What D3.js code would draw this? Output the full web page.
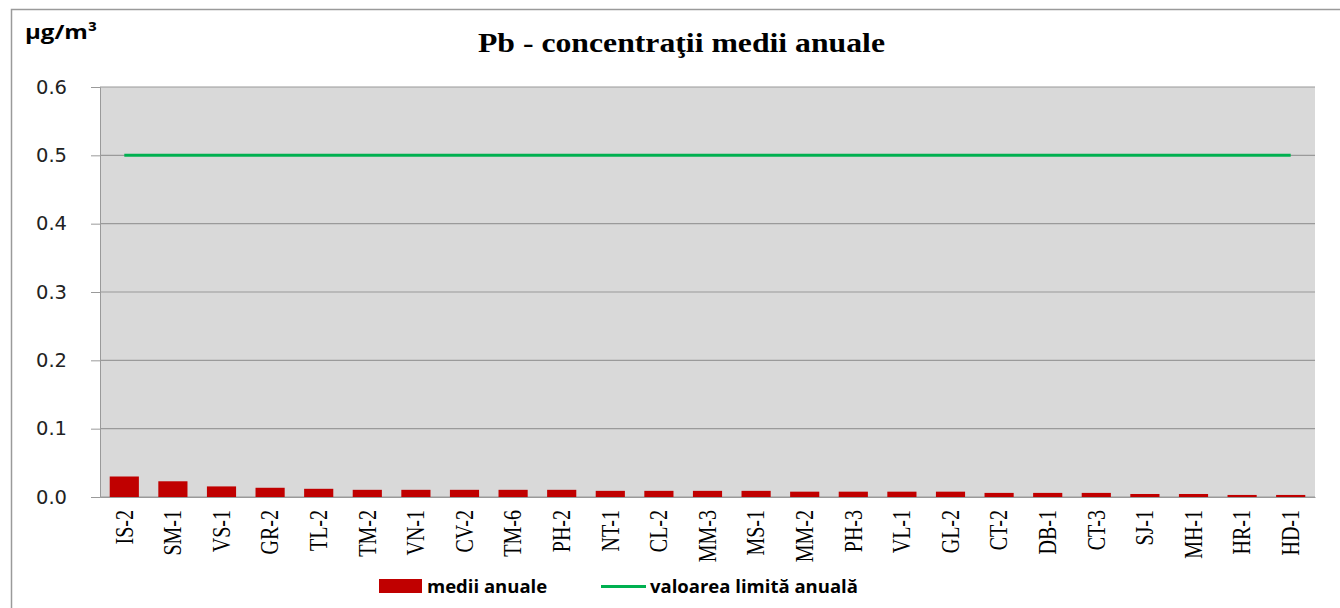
<!DOCTYPE html>
<html>
<head>
<meta charset="utf-8">
<script src="https://cdn.jsdelivr.net/npm/d3@7"></script>
<style>
  body { margin: 0; background: #fff; overflow: hidden; }
</style>
</head>
<body>
<div id="chart"></div>
<script>
// stations, ordered as in the picture
const stations = ["IS-2", "SM-1", "VS-1", "GR-2", "TL-2", "TM-2", "VN-1", "CV-2", "TM-6", "PH-2",
                  "NT-1", "CL-2", "MM-3", "MS-1", "MM-2", "PH-3", "VL-1", "GL-2", "CT-2", "DB-1",
                  "CT-3", "SJ-1", "MH-1", "HR-1", "HD-1"];
// medii anuale (µg/m3)
const annualMeans = [0.030, 0.023, 0.0155, 0.0135, 0.012, 0.0105, 0.0105, 0.0105, 0.0105, 0.0105,
                     0.009, 0.009, 0.009, 0.009, 0.0078, 0.0078, 0.0078, 0.0078, 0.006, 0.006,
                     0.006, 0.0044, 0.0044, 0.003, 0.003];
const limitValue = 0.5; // valoarea limita anuala
const yTicks = [0, 0.1, 0.2, 0.3, 0.4, 0.5, 0.6];

const data = stations.map((s, i) => ({ station: s, value: annualMeans[i] }));

const width = 1340,
      height = 608,
      margin = ({ top: 87, right: 25, bottom: 111, left: 100 });

let svg = d3.select("#chart")
    .append("svg")
    .attr("width", width)
    .attr("height", height)
    .style("display", "block");

// outer chart frame (only top and left edges are in view)
svg.append("path")
    .attr("d", `M11.5,${height} V9.5 H${width}`)
    .attr("fill", "none")
    .attr("stroke", "#9a9a9a")
    .attr("stroke-width", 1.5);

let x = d3.scaleBand()
    .domain(stations)
    .range([margin.left, width - margin.right])
    .paddingInner(0.4)
    .paddingOuter(0.2);

let y = d3.scaleLinear()
    .domain([0, 0.6])
    .range([height - margin.bottom, margin.top]);

// plot area background
svg.append("rect")
    .attr("x", margin.left)
    .attr("y", margin.top)
    .attr("width", width - margin.right - margin.left)
    .attr("height", y(0) - margin.top)
    .attr("fill", "#d9d9d9");

// y axis with gridlines
let yAxis = svg.append("g")
    .attr("transform", `translate(${margin.left},0)`)
    .call(d3.axisLeft(y)
        .tickValues(yTicks)
        .tickFormat(d3.format(".1f"))
        .tickSize(9)
        .tickPadding(24));
yAxis.select(".domain").attr("stroke", "#9a9a9a");
yAxis.selectAll(".tick line").attr("stroke", "#9a9a9a");
yAxis.selectAll(".tick text")
    .attr("fill", "#222")
    .style("font-family", "'DejaVu Sans', sans-serif")
    .style("font-size", "19.5px");

svg.append("g")
    .selectAll("line")
    .data(yTicks)
    .join("line")
    .attr("x1", margin.left)
    .attr("x2", width - margin.right)
    .attr("y1", d => y(d))
    .attr("y2", d => y(d))
    .attr("stroke", "#9a9a9a")
    .attr("stroke-width", 1.2);

// x axis
let xAxis = svg.append("g")
    .attr("transform", `translate(0,${y(0)})`)
    .call(d3.axisBottom(x).tickSize(0).tickPadding(0));
xAxis.select(".domain").attr("stroke", "#9a9a9a");
xAxis.selectAll(".tick text")
    .attr("transform", "translate(0,13) scale(1.25,1) rotate(-90)")
    .attr("x", 0)
    .attr("y", 0)
    .attr("dy", "0.33em")
    .attr("text-anchor", "end")
    .attr("fill", "#000")
    .style("font-family", "'Liberation Serif', 'Times New Roman', serif")
    .style("font-size", "20px");

// bars
svg.selectAll(".bar")
    .data(data)
    .join("rect")
    .attr("class", "bar")
    .attr("fill", "#c00000")
    .attr("x", d => x(d.station))
    .attr("width", x.bandwidth())
    .attr("y", d => y(d.value))
    .attr("height", d => y(0) - y(d.value));

// limit line
svg.append("line")
    .attr("x1", x(stations[0]) + x.bandwidth() / 2)
    .attr("x2", x(stations[stations.length - 1]) + x.bandwidth() / 2)
    .attr("y1", y(limitValue))
    .attr("y2", y(limitValue))
    .attr("stroke", "#00b050")
    .attr("stroke-width", 3);

// title and unit
svg.append("text")
    .text("Pb - concentraţii medii anuale")
    .attr("x", 478)
    .attr("y", 52)
    .attr("textLength", 407)
    .attr("lengthAdjust", "spacingAndGlyphs")
    .style("font-family", "'Liberation Serif', 'Times New Roman', serif")
    .style("font-weight", "bold")
    .style("font-size", "28px");

svg.append("text")
    .attr("x", 25)
    .attr("y", 39)
    .attr("textLength", 72)
    .attr("lengthAdjust", "spacingAndGlyphs")
    .style("font-family", "'Open Sans', 'DejaVu Sans', sans-serif")
    .style("font-weight", "bold")
    .style("font-size", "20px")
    .text("µg/m³");

// legend
let legend = svg.append("g")
    .style("font-family", "'Open Sans', 'DejaVu Sans', sans-serif")
    .style("font-weight", "bold")
    .style("font-size", "18.5px");

legend.append("rect")
    .attr("x", 379).attr("y", 579)
    .attr("width", 43).attr("height", 14)
    .attr("fill", "#c00000");
legend.append("text")
    .attr("x", 427).attr("y", 593)
    .text("medii anuale");

legend.append("line")
    .attr("x1", 601).attr("x2", 646)
    .attr("y1", 586.5).attr("y2", 586.5)
    .attr("stroke", "#00b050")
    .attr("stroke-width", 3);
legend.append("text")
    .attr("x", 650).attr("y", 593)
    .text("valoarea limită anuală");
</script>
</body>
</html>
